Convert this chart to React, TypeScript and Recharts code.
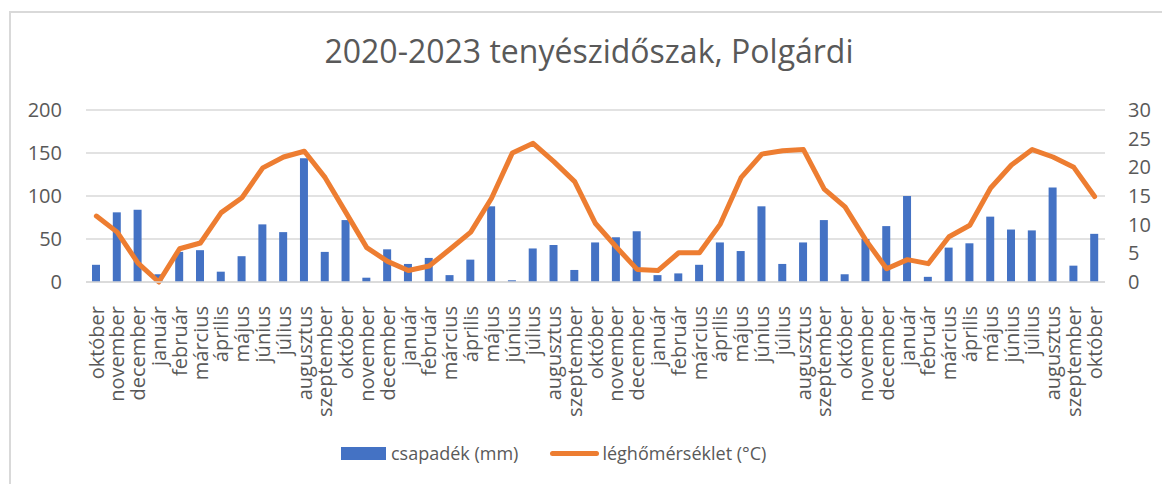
import { ComposedChart, Bar, Line, XAxis, YAxis, CartesianGrid } from "recharts";

// Months from October 2019 to October 2023
const months = [
  "október", "november", "december", "január", "február", "március", "április", "május", "június", "július", "augusztus", "szeptember",
  "október", "november", "december", "január", "február", "március", "április", "május", "június", "július", "augusztus", "szeptember",
  "október", "november", "december", "január", "február", "március", "április", "május", "június", "július", "augusztus", "szeptember",
  "október", "november", "december", "január", "február", "március", "április", "május", "június", "július", "augusztus", "szeptember",
  "október",
];

// csapadék (mm)
const precipitation = [
  20, 81, 84, 9, 35, 37, 12, 30, 67, 58, 144, 35,
  72, 5, 38, 21, 28, 8, 26, 88, 2, 39, 43, 14,
  46, 52, 59, 8, 10, 20, 46, 36, 88, 21, 46, 72,
  9, 50, 65, 100, 6, 40, 45, 76, 61, 60, 110, 19,
  56,
];

// léghőmérséklet (°C)
const temperature = [
  11.5, 8.7, 3.3, 0.0, 5.8, 6.8, 12.1, 14.7, 19.9, 21.8, 22.8, 18.2,
  12.1, 6.0, 3.6, 2.0, 2.8, 5.7, 8.7, 14.6, 22.5, 24.2, 21.0, 17.5,
  10.2, 6.1, 2.2, 2.0, 5.1, 5.1, 10.1, 18.2, 22.3, 22.9, 23.1, 16.2,
  13.1, 7.3, 2.3, 3.9, 3.2, 7.9, 9.9, 16.4, 20.4, 23.1, 21.8, 20.0,
  14.9,
];

const leftTicks = [0, 50, 100, 150, 200];
const rightTicks = [0, 5, 10, 15, 20, 25, 30];

const data = months.map((m, i) => ({
  idx: i,
  month: m,
  rain: precipitation[i],
  temp: temperature[i],
}));

const FONT = '"Open Sans", sans-serif';
const TEXT = "#595959";

function MonthTick({ x, y, payload }: any) {
  return (
    <text
      transform={`translate(${x}, ${y + 16}) rotate(-90)`}
      textAnchor="end"
      dy="0.36em"
      fontSize={20}
      fontFamily={FONT}
      fill={TEXT}
    >
      {months[payload.value]}
    </text>
  );
}

export default function App() {
  return (
    <div style={{ position: "relative", width: 1162, height: 484, background: "#fff", fontFamily: FONT }}>
      <style>{`body{margin:0}`}</style>
      {/* chart frame (only top and left edges are visible in the crop) */}
      <div
        style={{
          position: "absolute",
          left: 9,
          top: 11,
          width: 1200,
          height: 520,
          borderTop: "2px solid #d9d9d9",
          borderLeft: "2px solid #d9d9d9",
          boxSizing: "border-box",
        }}
      />
      <div
        style={{
          position: "absolute",
          left: 0,
          width: 1178,
          top: 32,
          textAlign: "center",
          fontSize: 32,
          lineHeight: "38px",
          color: TEXT,
        }}
      >
        2020-2023 tenyészidőszak, Polgárdi
      </div>

      <div style={{ position: "absolute", left: 0, top: 0 }}>
        <ComposedChart width={1162} height={484} data={data} margin={{ top: 110, right: 0, bottom: 0, left: 0 }}>
          <CartesianGrid vertical={false} stroke="#d9d9d9" strokeWidth={1.5} yAxisId="left" />
          <XAxis
            dataKey="idx"
            type="category"
            height={202}
            interval={0}
            tick={<MonthTick />}
            tickLine={false}
            axisLine={{ stroke: "#d9d9d9", strokeWidth: 1.5 }}
          />
          <YAxis
            yAxisId="left"
            orientation="left"
            width={86}
            domain={[0, 200]}
            ticks={leftTicks}
            axisLine={false}
            tickLine={false}
            tickSize={0}
            tickMargin={24}
            tick={{ fontSize: 20, fill: TEXT, fontFamily: FONT }}
          />
          <YAxis
            yAxisId="right"
            orientation="right"
            width={57}
            domain={[0, 30]}
            ticks={rightTicks}
            axisLine={false}
            tickLine={false}
            tickSize={0}
            tickMargin={23}
            tick={{ fontSize: 20, fill: TEXT, fontFamily: FONT, textAnchor: "start" }}
          />
          <Bar yAxisId="left" dataKey="rain" fill="#4472C4" barSize={8} isAnimationActive={false} />
          <Line
            yAxisId="right"
            type="linear"
            dataKey="temp"
            stroke="#ED7D31"
            strokeWidth={5}
            strokeLinejoin="round"
            strokeLinecap="round"
            dot={false}
            isAnimationActive={false}
          />
        </ComposedChart>
      </div>

      {/* legend */}
      <div
        style={{
          position: "absolute",
          top: 440,
          left: 341,
          height: 26,
          display: "flex",
          alignItems: "center",
          fontSize: 18,
          color: TEXT,
          whiteSpace: "nowrap",
        }}
      >
        <span style={{ width: 45, height: 13, background: "#4472C4", display: "inline-block", marginRight: 5 }} />
        <span>csapadék (mm)</span>
        <span
          style={{
            width: 49,
            height: 5,
            borderRadius: 3,
            background: "#ED7D31",
            display: "inline-block",
            marginLeft: 32,
            marginRight: 3,
          }}
        />
        <span>léghőmérséklet (°C)</span>
      </div>
    </div>
  );
}
